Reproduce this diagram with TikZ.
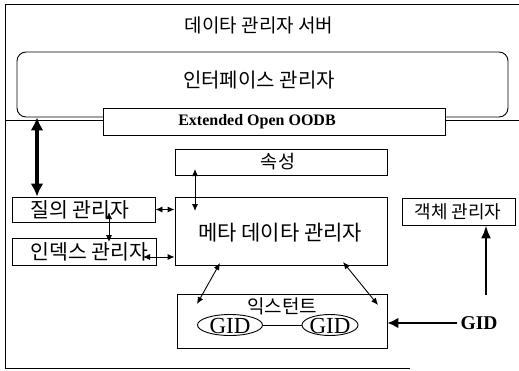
\documentclass[tikz,border=0pt]{standalone}
\usepackage{fontspec}
\setmainfont{Liberation Serif}
\newfontfamily\krfont{Noto Sans CJK KR}
\usetikzlibrary{arrows.meta,shapes.geometric}
\tikzset{
  box/.style={draw, line width=0.9pt, fill=white, inner sep=0pt, anchor=center},
  kr/.style={font=\krfont\fontsize{#1}{#1}\selectfont, inner sep=0pt},
  thin arrow/.style={line width=0.9pt, {Latex[length=7pt,width=6pt]}-{Latex[length=7pt,width=6pt]}},
  frame/.style={line width=1pt},
  gidell/.style={draw, ellipse, line width=0.9pt, minimum height=21pt, inner sep=0pt},
  gidtext/.style={font=\fontsize{23}{23}\selectfont, inner sep=0pt},
}
\begin{document}
\begin{tikzpicture}[x=1pt,y=-1pt]
\useasboundingbox (0,0) rectangle (519,370);
% outer frame
\draw[frame] (519,4) -- (5,4) -- (5,368) -- (410,368);
\node[kr=19] (title) at (259,25) {데이타 관리자 서버};
% interface manager
\node[box, rounded corners=9pt, minimum width=491pt, minimum height=65pt] (iface) at (262.5,84.5) {};
\node[kr=20] (ifacel) at (259,80) {인터페이스 관리자};
\coordinate (sepL) at (5,120);
\coordinate (sepR) at (519,120);
\draw[line width=0.9pt] (sepL) -- (sepR);
\node[box, minimum width=342pt, minimum height=27pt] (oodb) at (274,121.5) {};
\node[font=\bfseries\fontsize{16}{16}\selectfont, inner sep=0pt] (oodbl) at (257,122) {Extended Open OODB};
% boxes
\node[box, minimum width=212pt, minimum height=26pt] (attr) at (281,162) {};
\node[kr=18.5] (attrl) at (278,162) {속성};
\node[box, minimum width=212pt, minimum height=68pt] (meta) at (281,231) {};
\node[kr=21] (metal) at (280,233) {메타 데이타 관리자};
\node[box, minimum width=143pt, minimum height=25pt] (qm) at (83.5,209.5) {};
\node[kr=20.5] (qml) at (80,210) {질의 관리자};
\node[box, minimum width=144pt, minimum height=27pt] (im) at (84,251.5) {};
\node[kr=20.5] (iml) at (89.5,252) {인덱스 관리자};
\node[box, minimum width=113pt, minimum height=27pt] (objm) at (458.5,211.5) {};
\node[kr=18] (objml) at (458,211.5) {객체 관리자};
\node[box, minimum width=210pt, minimum height=54pt] (ext) at (282,321) {};
\node[kr=19] (extl) at (282,306) {익스턴트};
\node[gidell, minimum width=65pt] (gid1) at (230,325) {};
\node[gidtext] (gid1l) at (230,325.5) {GID};
\node[gidell, minimum width=56pt] (gid2) at (330,325) {};
\node[gidtext] (gid2l) at (330,325.5) {GID};
\draw[line width=0.9pt] (gid1) -- (gid2);
\node[font=\bfseries\fontsize{19.5}{19.5}\selectfont] (gidx) at (479,323) {GID};
% connectors
\coordinate (ax) at (37,0);
\draw[line width=3.5pt, {Latex[length=13pt,width=13pt]}-{Latex[length=13pt,width=13pt]}] (iface.south -| ax) -- (qm.north -| ax);
\coordinate (qi1) at (109,212);
\coordinate (qi2) at (109,242);
\draw[thin arrow] (qi1) -- (qi2);
\draw[thin arrow] (qm.east) -- (meta.west |- qm.east);
\coordinate (im1) at (143,257);
\draw[thin arrow] (im1) -- (meta.west |- im1);
\coordinate (am1) at (195,169);
\coordinate (am2) at (195,211);
\draw[thin arrow] (am1) -- (am2);
\coordinate (d1a) at (220,263);
\coordinate (d1b) at (197,304);
\draw[thin arrow] (d1a) -- (d1b);
\coordinate (d2a) at (343,262);
\coordinate (d2b) at (378,305);
\draw[thin arrow] (d2a) -- (d2b);
\draw[line width=2.5pt, -{Latex[length=11pt,width=11pt]}] (gidx.west) -- (ext.east |- gidx.west);
\coordinate (ob1) at (486,295);
\draw[line width=2.2pt, -{Latex[length=13pt,width=10pt]}] (ob1) -- (objm.south -| ob1);
\end{tikzpicture}
\end{document}
